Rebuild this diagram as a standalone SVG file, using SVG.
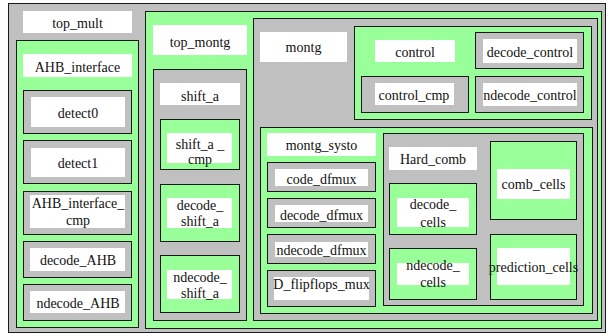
<svg xmlns="http://www.w3.org/2000/svg" width="608" height="335" viewBox="0 0 608 335">
<style>
.gy{fill:#c0c0c0;stroke:#1a1a1a;stroke-width:1}
.gn{fill:#99ff99;stroke:#1a1a1a;stroke-width:1}
.w{fill:#ffffff;stroke:none}
text{font-family:'Liberation Serif','Tinos','Times New Roman','DejaVu Serif','Noto Serif',serif;font-size:14px;fill:#111;text-anchor:middle}
</style>
<rect x="0" y="0" width="608" height="335" fill="#ffffff"/>
<g id="top_mult">
<rect class="gy" x="8.5" y="3.5" width="597" height="329"/>
<rect class="w" x="23" y="11" width="109" height="22"/>
<text x="77.5" y="28">top_mult</text>
</g>
<g id="AHB_interface">
<rect class="gn" x="16.5" y="40.5" width="122" height="287"/>
<rect class="w" x="23" y="54" width="109" height="23"/>
<text x="77.5" y="71.5">AHB_interface</text>
</g>
<g id="detect0">
<rect class="gy" x="23.5" y="90.5" width="108" height="43"/>
<rect class="w" x="31" y="97" width="94" height="30"/>
<text x="78" y="118">detect0</text>
</g>
<g id="detect1">
<rect class="gy" x="23.5" y="140.5" width="108" height="43"/>
<rect class="w" x="31" y="148" width="94" height="29"/>
<text x="78" y="167.5">detect1</text>
</g>
<g id="AHB_interface_cmp">
<rect class="gy" x="23.5" y="191.5" width="108" height="43"/>
<rect class="w" x="30" y="195" width="95" height="33"/>
<text x="78" y="208">AHB_interface_</text>
<text x="78" y="225">cmp</text>
</g>
<g id="decode_AHB">
<rect class="gy" x="23.5" y="241.5" width="108" height="36"/>
<rect class="w" x="30" y="248" width="95" height="23"/>
<text x="78" y="265">decode_AHB</text>
</g>
<g id="ndecode_AHB">
<rect class="gy" x="23.5" y="284.5" width="108" height="36"/>
<rect class="w" x="30" y="291" width="95" height="22"/>
<text x="78" y="307.5">ndecode_AHB</text>
</g>
<g id="top_montg">
<rect class="gn" x="145.5" y="11.5" width="456" height="317"/>
<rect class="w" x="153" y="25" width="94" height="30"/>
<text x="200" y="46.5">top_montg</text>
</g>
<g id="shift_a">
<rect class="gy" x="153.5" y="69.5" width="93" height="251"/>
<rect class="w" x="160" y="83" width="80" height="22"/>
<text x="200" y="101">shift_a</text>
</g>
<g id="shift_a_cmp">
<rect class="gn" x="160.5" y="119.5" width="79" height="50"/>
<rect class="w" x="167" y="133" width="65" height="30"/>
<text x="200" y="148.5">shift_a _</text>
<text x="200" y="164">cmp</text>
</g>
<g id="decode_shift_a">
<rect class="gn" x="160.5" y="184.5" width="79" height="57"/>
<rect class="w" x="167" y="198" width="65" height="30"/>
<text x="200" y="210">decode_</text>
<text x="200" y="226">shift_a</text>
</g>
<g id="ndecode_shift_a">
<rect class="gn" x="160.5" y="255.5" width="79" height="57"/>
<rect class="w" x="167" y="270" width="65" height="29"/>
<text x="200" y="281.5">ndecode_</text>
<text x="200" y="298">shift_a</text>
</g>
<g id="montg">
<rect class="gy" x="253.5" y="18.5" width="344" height="302"/>
<rect class="w" x="260" y="32" width="87" height="30"/>
<text x="303.5" y="51.5">montg</text>
</g>
<g id="control">
<rect class="gn" x="354.5" y="26.5" width="237" height="93"/>
<rect class="w" x="375" y="40" width="80" height="22"/>
<text x="415" y="56.5">control</text>
</g>
<g id="control_cmp">
<rect class="gy" x="361.5" y="76.5" width="107" height="36"/>
<rect class="w" x="375" y="83" width="79" height="22"/>
<text x="414" y="100">control_cmp</text>
</g>
<g id="decode_control">
<rect class="gy" x="475.5" y="32.5" width="108" height="36"/>
<rect class="w" x="483" y="39" width="94" height="24"/>
<text x="530" y="56.5">decode_control</text>
</g>
<g id="ndecode_control">
<rect class="gy" x="475.5" y="76.5" width="108" height="36"/>
<rect class="w" x="483" y="83" width="94" height="23"/>
<text x="530" y="100">ndecode_control</text>
</g>
<g id="montg_systo">
<rect class="gn" x="260.5" y="127.5" width="332" height="186"/>
<rect class="w" x="267" y="133" width="109" height="23"/>
<text x="321.5" y="149.5">montg_systo</text>
</g>
<g id="code_dfmux">
<rect class="gy" x="267.5" y="162.5" width="108" height="29"/>
<rect class="w" x="275" y="169" width="93" height="17"/>
<text x="321.5" y="183.5">code_dfmux</text>
</g>
<g id="decode_dfmux">
<rect class="gy" x="267.5" y="198.5" width="108" height="29"/>
<rect class="w" x="275" y="205" width="93" height="17"/>
<text x="321.5" y="219.5">decode_dfmux</text>
</g>
<g id="ndecode_dfmux">
<rect class="gy" x="267.5" y="234.5" width="108" height="29"/>
<rect class="w" x="275" y="242" width="93" height="15"/>
<text x="321.5" y="255">ndecode_dfmux</text>
</g>
<g id="D_flipflops_mux">
<rect class="gy" x="267.5" y="270.5" width="108" height="36"/>
<rect class="w" x="274" y="277" width="95" height="23"/>
<text x="321.5" y="288.5">D_flipflops_mux</text>
</g>
<g id="Hard_comb">
<rect class="gy" x="383.5" y="133.5" width="200" height="172"/>
<rect class="w" x="389" y="147" width="88" height="23"/>
<text x="433" y="164">Hard_comb</text>
</g>
<g id="decode_cells">
<rect class="gn" x="389.5" y="183.5" width="87" height="51"/>
<rect class="w" x="397" y="198" width="72" height="29"/>
<text x="433" y="209">decode_</text>
<text x="433" y="226.5">cells</text>
</g>
<g id="ndecode_cells">
<rect class="gn" x="389.5" y="248.5" width="87" height="51"/>
<rect class="w" x="397" y="263" width="72" height="22"/>
<text x="433" y="270">ndecode_</text>
<text x="433" y="287">cells</text>
</g>
<g id="comb_cells">
<rect class="gn" x="490.5" y="141.5" width="86" height="78"/>
<rect class="w" x="497" y="169" width="73" height="30"/>
<text x="533.5" y="188.5">comb_cells</text>
</g>
<g id="prediction_cells">
<rect class="gn" x="490.5" y="234.5" width="86" height="65"/>
<rect class="w" x="497" y="248" width="73" height="37"/>
<text x="533.5" y="271.5">prediction_cells</text>
</g>
</svg>
